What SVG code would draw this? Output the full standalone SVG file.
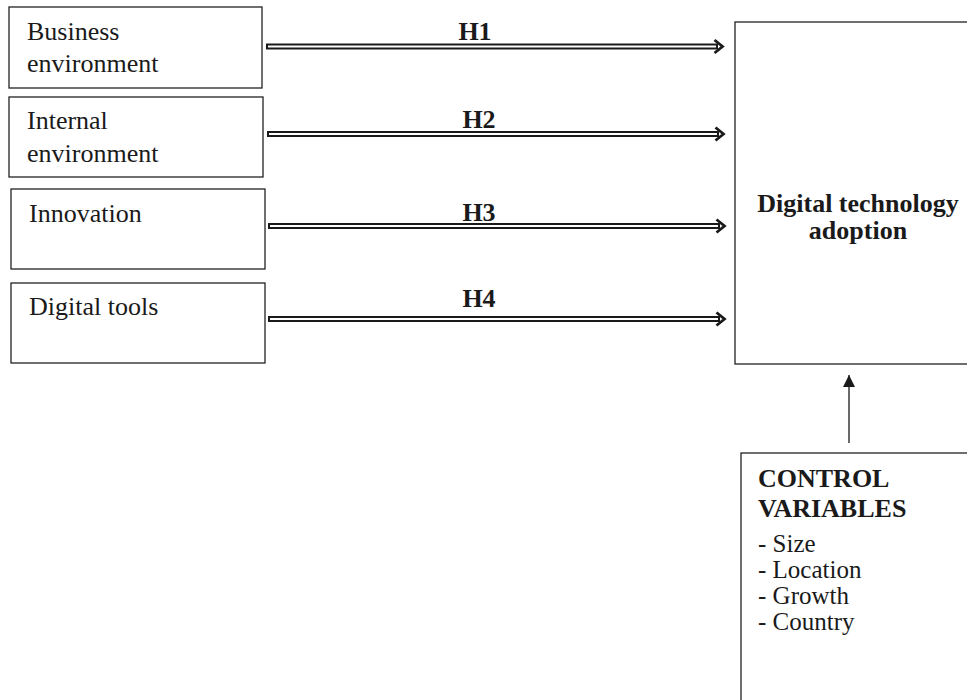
<svg xmlns="http://www.w3.org/2000/svg" width="967" height="700" viewBox="0 0 967 700">
<style>
.box{fill:#fff;stroke:#222;stroke-width:1.3}
.t{font-family:"Liberation Serif","Times New Roman",serif;font-size:26px;fill:#1a1a1a}
.l{font-family:"Liberation Serif","Times New Roman",serif;font-size:25px;fill:#1a1a1a}
.b{font-family:"Liberation Serif","Times New Roman",serif;font-size:26px;font-weight:bold;fill:#1a1a1a}
.dl{fill:#fff;stroke:#1a1a1a;stroke-width:2}
.hd{fill:none;stroke:#1a1a1a;stroke-width:2.8;stroke-linejoin:miter}
</style>
<defs>
<marker id="ah" viewBox="0 0 10 10" refX="10" refY="5" markerWidth="12" markerHeight="12" markerUnits="userSpaceOnUse" orient="auto">
<path d="M0,0 L10,5 L0,10 Z" fill="#1a1a1a"/>
</marker>
</defs>
<rect width="967" height="700" fill="#fff"/>
<g id="n1"><rect class="box" x="9" y="7" width="253" height="81"/><text class="t" x="27" y="40">Business</text><text class="t" x="27" y="72">environment</text></g>
<g id="n2"><rect class="box" x="9" y="97" width="254" height="80"/><text class="t" x="27" y="129">Internal</text><text class="t" x="27" y="162">environment</text></g>
<g id="n3"><rect class="box" x="11" y="189" width="254" height="80"/><text class="t" x="29" y="222">Innovation</text></g>
<g id="n4"><rect class="box" x="11" y="283" width="254" height="80"/><text class="t" x="29" y="315">Digital tools</text></g>
<g id="dta"><rect class="box" x="735" y="22" width="240" height="342"/><text class="b" x="858" y="212" text-anchor="middle" font-size="27">Digital technology</text><text class="b" x="858" y="239" text-anchor="middle" font-size="27">adoption</text></g>
<g id="cv"><rect class="box" x="741" y="453" width="240" height="260"/><text class="b" x="758" y="487">CONTROL</text><text class="b" x="758" y="517">VARIABLES</text><text class="l" x="758" y="552">- Size</text><text class="l" x="758" y="578">- Location</text><text class="l" x="758" y="604">- Growth</text><text class="l" x="758" y="630">- Country</text></g>
<g id="connectors">
<rect class="dl" x="267" y="44.5" width="450" height="4"/><polyline class="hd" points="714.5,40 722.5,46.5 714.5,53"/>
<rect class="dl" x="268" y="132" width="450" height="4"/><polyline class="hd" points="715.5,127.5 723.5,134 715.5,140.5"/>
<rect class="dl" x="269" y="224" width="450" height="4"/><polyline class="hd" points="716.5,219.5 724.5,226 716.5,232.5"/>
<rect class="dl" x="269" y="317" width="450" height="4"/><polyline class="hd" points="716.5,312.5 724.5,319 716.5,325.5"/>
<line x1="849" y1="443" x2="849" y2="375" stroke="#1a1a1a" stroke-width="1.3" marker-end="url(#ah)"/>
</g>
<g id="labels">
<text class="b" x="475" y="40" text-anchor="middle">H1</text>
<text class="b" x="479" y="128" text-anchor="middle">H2</text>
<text class="b" x="479" y="221" text-anchor="middle">H3</text>
<text class="b" x="479" y="307" text-anchor="middle">H4</text>
</g>
</svg>
